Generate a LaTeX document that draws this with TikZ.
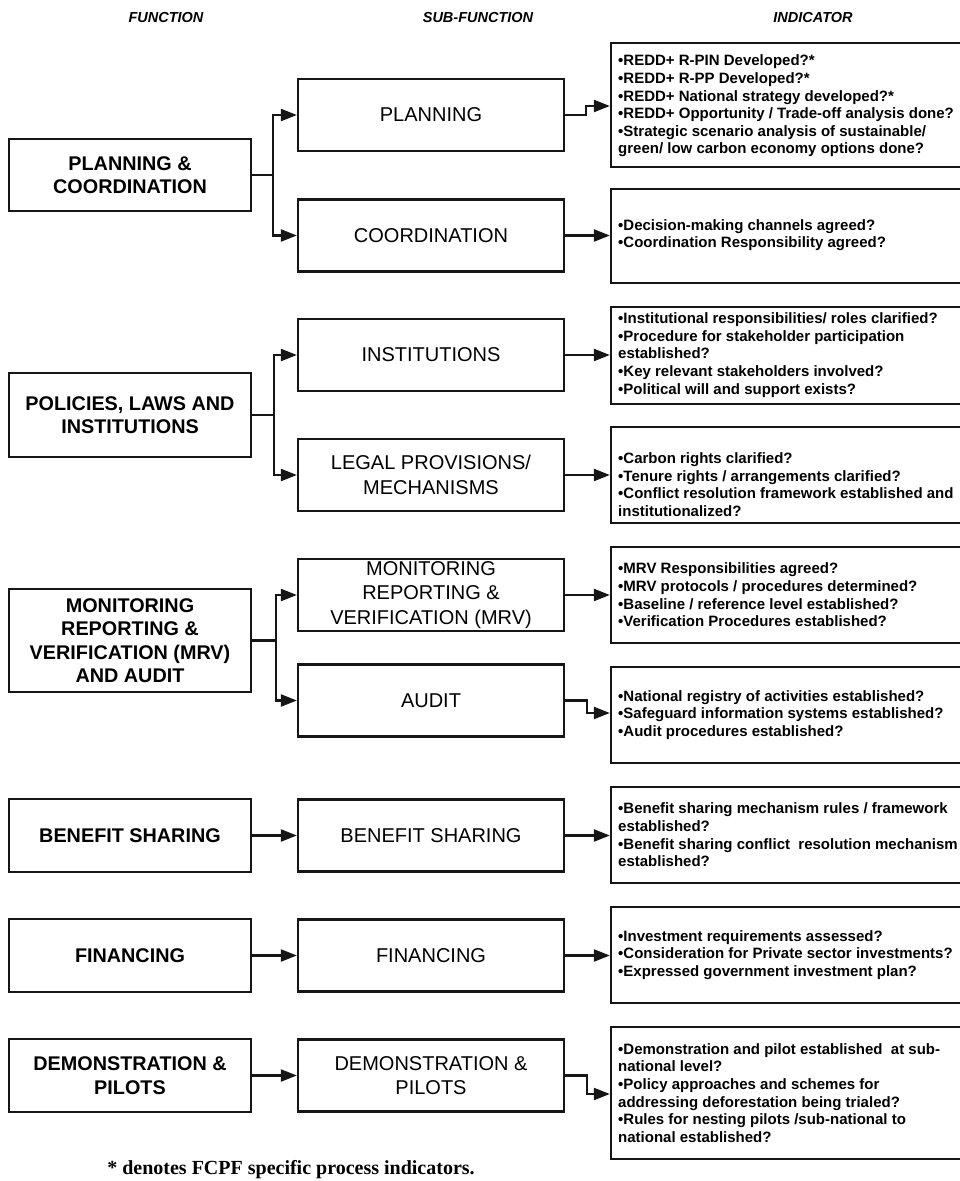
\documentclass[tikz,border=0pt]{standalone}
\usepackage{fontspec}
\setmainfont{Liberation Sans}
\newfontfamily\footfont{Liberation Serif}
\usetikzlibrary{arrows.meta}
\definecolor{ink}{HTML}{161616}
\begin{document}
\begin{tikzpicture}[x=1pt,y=-1pt,
  box/.style={draw=ink, line width=2.3pt, inner sep=0pt, align=center, text=black},
  funcbox/.style={box, minimum width=242pt, font=\bfseries\fontsize{19.8}{23.5}\selectfont},
  subbox/.style={box, minimum width=266pt, minimum height=72pt, font=\fontsize{20}{24.5}\selectfont},
  indbox/.style={box, minimum width=354pt},
  indtext/.style={anchor=west, align=left, inner sep=0pt, font=\bfseries\fontsize{15}{17.6}\selectfont},
  hdr/.style={font=\bfseries\itshape\fontsize{14.5}{17}\selectfont},
  conn/.style={draw=ink, line width=2.2pt},
  arr/.style={conn, -{Triangle[length=16pt,width=12pt]}},
]
\useasboundingbox (0,0) rectangle (960,1181);
\fill[white] (0,0) rectangle (960,1181);
\clip (0,0) rectangle (960,1181);

% headers
\node[hdr] (h1) at (166,18) {FUNCTION};
\node[hdr] (h2) at (478,18) {SUB-FUNCTION};
\node[hdr] (h3) at (813,18) {INDICATOR};

% function boxes
\node[funcbox, minimum height=72pt]  (F1) at (130,175)   {PLANNING \&\\COORDINATION};
\node[funcbox, minimum height=84pt]  (F2) at (130,415)   {POLICIES, LAWS AND\\INSTITUTIONS};
\node[funcbox, minimum height=103pt] (F3) at (130,640.5) {MONITORING\\REPORTING \&\\VERIFICATION (MRV)\\AND AUDIT};
\node[funcbox, minimum height=73pt]  (F4) at (130,835.5) {BENEFIT SHARING};
\node[funcbox, minimum height=73pt]  (F5) at (130,955.5) {FINANCING};
\node[funcbox, minimum height=73pt]  (F6) at (130,1075.5) {DEMONSTRATION \&\\PILOTS};

% sub-function boxes
\node[subbox] (S1) at (431,115)    {PLANNING};
\node[subbox] (S2) at (431,235.5)  {COORDINATION};
\node[subbox] (S3) at (431,355)    {INSTITUTIONS};
\node[subbox] (S4) at (431,475)    {LEGAL PROVISIONS/\\MECHANISMS};
\node[subbox] (S5) at (431,595)    {MONITORING\\REPORTING \&\\VERIFICATION (MRV)};
\node[subbox] (S6) at (431,700.5)  {AUDIT};
\node[subbox] (S7) at (431,835.5)  {BENEFIT SHARING};
\node[subbox] (S8) at (431,955.5)  {FINANCING};
\node[subbox] (S9) at (431,1075.5) {DEMONSTRATION \&\\PILOTS};

% indicator boxes
\node[indbox, minimum height=124pt] (I1) at (788,105)   {};
\node[indbox, minimum height=94pt]  (I2) at (788,236)   {};
\node[indbox, minimum height=97pt]  (I3) at (788,355.5) {};
\node[indbox, minimum height=96pt]  (I4) at (788,475)   {};
\node[indbox, minimum height=96pt]  (I5) at (788,595)   {};
\node[indbox, minimum height=96pt]  (I6) at (788,715)   {};
\node[indbox, minimum height=96pt]  (I7) at (788,835)   {};
\node[indbox, minimum height=96pt]  (I8) at (788,955)   {};
\node[indbox, minimum height=132pt] (I9) at (788,1093)  {};

% indicator texts
\node[indtext] (T1) at (618,106) {•REDD+ R-PIN Developed?*\\•REDD+ R-PP Developed?*\\•REDD+ National strategy developed?*\\•REDD+ Opportunity / Trade-off analysis done?\\•Strategic scenario analysis of sustainable/\\green/ low carbon economy options done?};
\node[indtext] (T2) at (618,235) {•Decision-making channels agreed?\\•Coordination Responsibility agreed?};
\node[indtext] (T3) at (618,355) {•Institutional responsibilities/ roles clarified?\\•Procedure for stakeholder participation\\established?\\•Key relevant stakeholders involved?\\•Political will and support exists?};
\node[indtext] (T4) at (618,484.5) {•Carbon rights clarified?\\•Tenure rights / arrangements clarified?\\•Conflict resolution framework established and\\institutionalized?};
\node[indtext] (T5) at (618,595) {•MRV Responsibilities agreed?\\•MRV protocols / procedures determined?\\•Baseline / reference level established?\\•Verification Procedures established?};
\node[indtext] (T6) at (618,715) {•National registry of activities established?\\•Safeguard information systems established?\\•Audit procedures established?};
\node[indtext] (T7) at (618,835) {•Benefit sharing mechanism rules / framework\\established?\\•Benefit sharing conflict~ resolution mechanism\\established?};
\node[indtext] (T8) at (618,955) {•Investment requirements assessed?\\•Consideration for Private sector investments?\\•Expressed government investment plan?};
\node[indtext] (T9) at (618,1093) {•Demonstration and pilot established~ at sub-\\national level?\\•Policy approaches and schemes for\\addressing deforestation being trialed?\\•Rules for nesting pilots /sub-national to\\national established?};

% branch junctions
\coordinate (j1) at (273,175);
\coordinate (j2) at (274,415);
\coordinate (j3) at (276,640.5);
\draw[conn] (F1.east) -- (j1);
\draw[arr] (j1) |- (S1.west);
\draw[arr] (j1) |- (S2.west);
\draw[conn] (F2.east) -- (j2);
\draw[arr] (j2) |- (S3.west);
\draw[arr] (j2) |- (S4.west);
\draw[conn] (F3.east) -- (j3);
\draw[arr] (j3) |- (S5.west);
\draw[arr] (j3) |- (S6.west);
\draw[arr] (F4.east) -- (S7.west);
\draw[arr] (F5.east) -- (S8.west);
\draw[arr] (F6.east) -- (S9.west);

% sub-function to indicator
\coordinate (k1) at (586,106);
\coordinate (k6) at (587,713);
\coordinate (k9) at (587,1094);
\draw[arr] (S1.east) -- (S1.east -| k1) -- (k1) -- (k1 -| I1.west);
\draw[arr] (S2.east) -- (S2.east -| I2.west);
\draw[arr] (S3.east) -- (S3.east -| I3.west);
\draw[arr] (S4.east) -- (S4.east -| I4.west);
\draw[arr] (S5.east) -- (S5.east -| I5.west);
\draw[arr] (S6.east) -- (S6.east -| k6) -- (k6) -- (k6 -| I6.west);
\draw[arr] (S7.east) -- (S7.east -| I7.west);
\draw[arr] (S8.east) -- (S8.east -| I8.west);
\draw[arr] (S9.east) -- (S9.east -| k9) -- (k9) -- (k9 -| I9.west);

% footnote
\node[font=\footfont\bfseries\fontsize{20}{24}\selectfont] (fn) at (291,1170) {* denotes FCPF specific process indicators.};
\end{tikzpicture}
\end{document}
